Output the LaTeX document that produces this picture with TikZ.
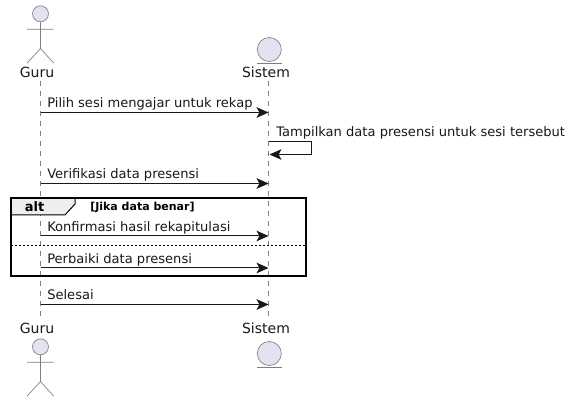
\documentclass[tikz,border=0pt]{standalone}
\usepackage{fontspec}
\setmainfont{DejaVu Sans}
\usetikzlibrary{arrows.meta}
\definecolor{actorfill}{HTML}{E2E2F0}
\definecolor{actorline}{HTML}{7F7F7F}
\definecolor{ink}{HTML}{181818}
\definecolor{tabfill}{HTML}{EEEEEE}
\tikzset{
  x=0.75pt,y=-0.75pt,
  lifeline/.style={draw=actorline,line width=0.4pt,dash pattern=on 3.75pt off 3.75pt},
  actorshape/.style={draw=actorline,line width=0.5pt,fill=actorfill},
  actorlimb/.style={draw=actorline,line width=0.5pt},
  msg/.style={draw=ink,line width=0.75pt,-{Stealth[length=9pt,width=8pt,inset=2.2pt,fill=ink]}},
  msgtext/.style={inner sep=0pt,anchor=base west,text=ink,font=\fontsize{9.8pt}{12pt}\selectfont},
  parttext/.style={inner sep=0pt,anchor=base,text=ink,font=\fontsize{10.5pt}{12pt}\selectfont},
  frameline/.style={draw=black,line width=1.5pt},
}
\begin{document}
\begin{tikzpicture}
\useasboundingbox (0,0) rectangle (572,402);
% lifelines
\coordinate (g0) at (40.5,81);
\coordinate (g1) at (40.5,320);
\coordinate (s0) at (268.5,81);
\coordinate (s1) at (268.5,320);
\draw[lifeline] (g0) -- (g1);
\draw[lifeline] (s0) -- (s1);
% top participants
\node[parttext] (guruT) at (37,78) {Guru};
\node[parttext] (sisT) at (266,78) {Sistem};
\node[parttext] (guruB) at (37,334) {Guru};
\node[parttext] (sisB) at (266,334) {Sistem};
% actors
\draw[actorshape] (40.5,13.8) circle (8);
\draw[actorlimb] (40.5,21.8) -- (40.5,48.5) (27,29.3) -- (53.7,29.3) (27,63.2) -- (40.5,48.5) -- (53.7,63.2);
\draw[actorshape] (40.5,346.8) circle (8);
\draw[actorlimb] (40.5,354.8) -- (40.5,381.5) (27,362.3) -- (53.7,362.3) (27,396.2) -- (40.5,381.5) -- (53.7,396.2);
% entities
\draw[actorshape] (269.3,49.5) circle (12);
\draw[actorlimb] (257,63.3) -- (282,63.3);
\draw[actorshape] (269.3,353.5) circle (12);
\draw[actorlimb] (257,367.3) -- (282,367.3);
% frame
\draw[fill=tabfill,draw=none] (10.5,198.5) -- (75,198.5) -- (75,204) -- (65,215) -- (10.5,215) -- cycle;
\draw[draw=black,line width=0.75pt] (75,198.5) -- (75,204) -- (65,215) -- (10.5,215);
\node[inner sep=0pt,anchor=base,font=\bfseries\fontsize{9.75pt}{12pt}\selectfont] (altL) at (34.5,212) {alt};
\node[inner sep=0pt,anchor=base west,font=\bfseries\fontsize{8.25pt}{10pt}\selectfont] (altC) at (90,211) {[Jika data benar]};
\coordinate (dl) at (10.5,245.5);
\coordinate (dr) at (306,245.5);
\draw[draw=black,line width=0.5pt,dash pattern=on 1.5pt off 1.5pt] (dl) -- (dr);
\draw[frameline] (10.5,198.5) rectangle (306,276.5);
% messages
\foreach \n/\y in {a/112.5,b/183.5,c/236,d/268,e/304.5}{
  \coordinate (g\n) at (40.5,\y);
  \coordinate (s\n) at (268.5,\y);
}
\draw[msg] (ga) -- (sa);
\draw[msg] (gb) -- (sb);
\draw[msg] (gc) -- (sc);
\draw[msg] (gd) -- (sd);
\draw[msg] (ge) -- (se);
\coordinate (self0) at (269,141.5);
\coordinate (self1) at (269.5,154.5);
\draw[msg] (self0) -- (311.5,141.5) -- (311.5,154.5) -- (self1);
\node[msgtext] (ma) at (47,108) {Pilih sesi mengajar untuk rekap};
\node[msgtext] (mb) at (276,137) {Tampilkan data presensi untuk sesi tersebut};
\node[msgtext] (mc) at (47,179) {Verifikasi data presensi};
\node[msgtext] (md) at (47,232) {Konfirmasi hasil rekapitulasi};
\node[msgtext] (me) at (47,264) {Perbaiki data presensi};
\node[msgtext] (mf) at (47,300) {Selesai};
\end{tikzpicture}
\end{document}
